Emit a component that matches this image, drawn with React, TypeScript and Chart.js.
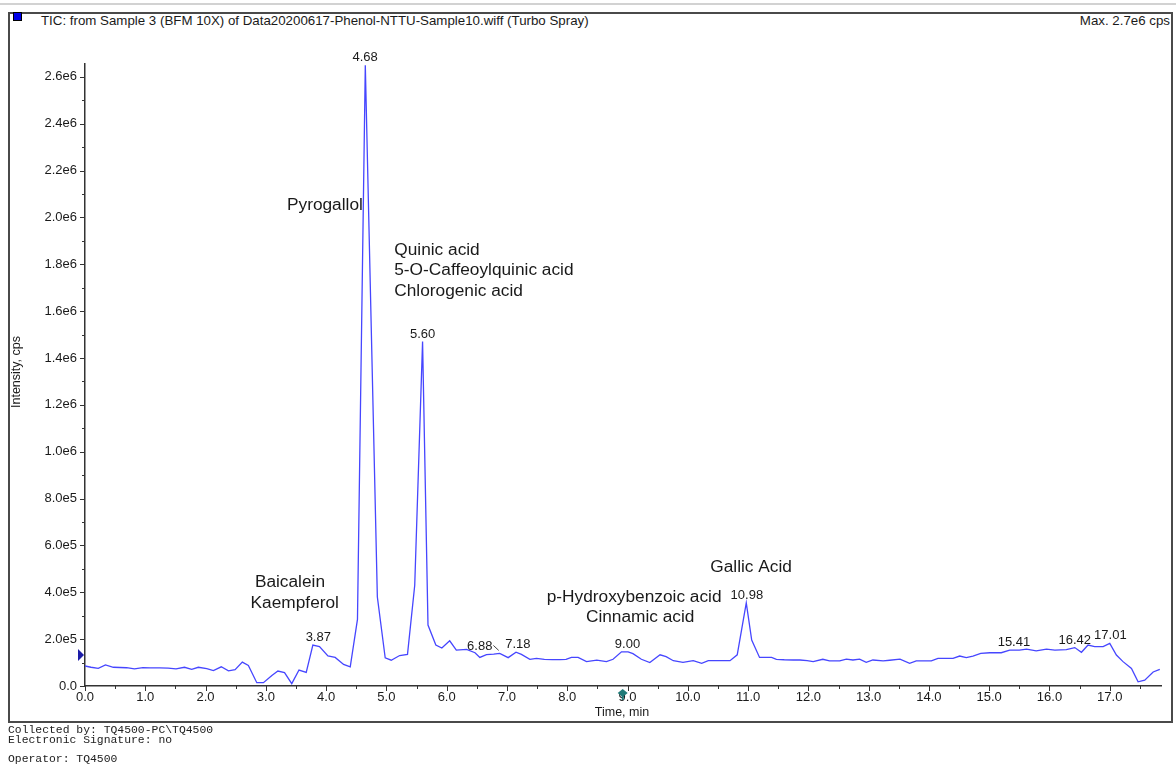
import React, { useEffect, useRef } from "react";
import { Chart, registerables } from "chart.js";

Chart.register(...registerables);

// ---- data (time in min, intensity in cps) ----
const times: number[] = [
  0.0, 0.1, 0.22, 0.34, 0.47, 0.58, 0.69, 0.82, 0.96, 1.08, 1.24, 1.38, 1.51, 1.65, 1.77, 1.88,
  2.02, 2.13, 2.26, 2.38, 2.49, 2.61, 2.71, 2.85, 2.96, 3.1, 3.2, 3.31, 3.43, 3.55, 3.67, 3.78,
  3.89, 4.03, 4.15, 4.29, 4.4, 4.52, 4.65, 4.85, 4.98, 5.08, 5.22, 5.35, 5.47, 5.6, 5.69, 5.82,
  5.92, 6.05, 6.16, 6.33, 6.47, 6.55, 6.66, 6.78, 6.88, 7.02, 7.15, 7.24, 7.38, 7.49, 7.62, 7.75,
  7.88, 7.98, 8.07, 8.18, 8.32, 8.49, 8.65, 8.76, 8.9, 9.01, 9.09, 9.23, 9.37, 9.54, 9.64, 9.76,
  9.92, 10.09, 10.23, 10.34, 10.5, 10.7, 10.82, 10.97, 11.06, 11.19, 11.39, 11.47, 11.6, 11.75,
  11.86, 11.98, 12.08, 12.24, 12.35, 12.52, 12.63, 12.74, 12.85, 12.96, 13.07, 13.24, 13.35,
  13.52, 13.68, 13.79, 14.04, 14.15, 14.4, 14.51, 14.62, 14.73, 14.86, 15.01, 15.2, 15.34, 15.5,
  15.62, 15.78, 15.95, 16.09, 16.28, 16.42, 16.53, 16.64, 16.75, 16.89, 17.0, 17.11, 17.22,
  17.36, 17.47, 17.58, 17.72, 17.83,
];

const intensity: number[] = [
  85500, 80000, 75500, 90000, 80000, 79000, 78000, 73000, 78000, 77000, 77000, 76000, 73000, 80000, 71000, 80000,
  74000, 66000, 82000, 65000, 70000, 102000, 88000, 14000, 14000, 45000, 64000, 57000, 10000, 68000, 58000, 175000,
  168000, 128000, 122000, 92000, 82000, 284000, 2650000, 380000, 120000, 110000, 130000, 135000, 430000, 1470000, 260000, 175000,
  162000, 193000, 153000, 156000, 142000, 122000, 134000, 136000, 139000, 121000, 144000, 135000, 114000, 118000, 114000, 113000,
  113000, 114000, 122000, 122000, 104000, 110000, 104000, 114000, 146000, 146000, 138000, 114000, 100000, 133000, 125000, 108000,
  101000, 108000, 97000, 108000, 108000, 108000, 133000, 355000, 196000, 122000, 122000, 114000, 112000, 111000,
  111000, 108000, 104000, 114000, 107000, 107000, 115000, 111000, 115000, 101000, 111000, 107000, 110000,
  115000, 97000, 107000, 107000, 118000, 118000, 128000, 121000, 128000, 139000, 142000, 142000, 153000, 153000,
  157000, 150000, 157000, 153000, 155000, 164000, 144000, 175000, 168000, 168000, 182000, 132000, 104000,
  75000, 18000, 25000, 60000, 71000,
];

// peak retention-time labels
const peakTimes: number[] = [3.87, 4.68, 5.6, 6.88, 7.18, 9.0, 10.98, 15.41, 16.42, 17.01];
const peakValues: number[] = [175000, 2650000, 1470000, 139000, 144000, 146000, 355000, 153000, 164000, 182000];

// compound name labels (text centre in data coordinates)
const compoundNames: string[] = [
  "Pyrogallol",
  "Quinic acid",
  "5-O-Caffeoylquinic acid",
  "Chlorogenic acid",
  "Baicalein",
  "Kaempferol",
  "p-Hydroxybenzoic acid",
  "Cinnamic acid",
  "Gallic Acid",
];
const compoundTimes: number[] = [3.98, 5.13, 5.13, 5.13, 3.4, 3.48, 9.11, 9.21, 11.05];
const compoundValues: number[] = [2053000, 1861000, 1775000, 1686000, 444000, 354000, 380000, 294000, 508000];
const compoundAlign: string[] = ["center", "left", "left", "left", "center", "center", "center", "center", "center"];

const xMajorTicks: number[] = [0, 1, 2, 3, 4, 5, 6, 7, 8, 9, 10, 11, 12, 13, 14, 15, 16, 17];
const yMajorTicks: number[] = [0, 200000, 400000, 600000, 800000, 1000000, 1200000, 1400000, 1600000, 1800000, 2000000, 2200000, 2400000, 2600000];

const X_MAX = 17.85;
const Y_MAX = 2655000;

const FONT = "'Liberation Sans', Arial, sans-serif";
const TEXT = "#1a1a1a";

function fmtY(v: number): string {
  if (v === 0) return "0.0";
  return v.toExponential(1).replace("+", "");
}

const overlayPlugin = {
  id: "overlay",
  afterDraw(chart: any) {
    const ctx = chart.ctx as CanvasRenderingContext2D;
    const xs = chart.scales.x;
    const ys = chart.scales.y;
    const area = chart.chartArea;
    ctx.save();

    // tick marks
    ctx.strokeStyle = "#333";
    ctx.lineWidth = 1;
    for (let i = 0; i <= 26; i++) {
      const v = i * 100000;
      const py = Math.round(ys.getPixelForValue(v)) + 0.5;
      const len = i % 2 === 0 ? 5 : 3;
      ctx.beginPath();
      ctx.moveTo(area.left - len, py);
      ctx.lineTo(area.left, py);
      ctx.stroke();
    }
    for (let i = 0; i <= 35; i++) {
      const t = i * 0.5;
      const px = Math.round(xs.getPixelForValue(t)) + 0.5;
      const len = i % 2 === 0 ? 5 : 3;
      ctx.beginPath();
      ctx.moveTo(px, area.bottom);
      ctx.lineTo(px, area.bottom + len);
      ctx.stroke();
    }

    // peak labels
    ctx.fillStyle = TEXT;
    ctx.font = `13px ${FONT}`;
    ctx.textAlign = "center";
    ctx.textBaseline = "bottom";
    peakTimes.forEach((t, i) => {
      let px = xs.getPixelForValue(t);
      const py = ys.getPixelForValue(peakValues[i]);
      const label = t.toFixed(2);
      if (t === 6.88) {
        const lx = px - 20;
        ctx.fillText(label, lx, py - 1);
        const w = ctx.measureText(label).width;
        ctx.strokeStyle = "#444";
        ctx.beginPath();
        ctx.moveTo(lx + w / 2 + 1, py - 8);
        ctx.lineTo(px - 1, py - 3);
        ctx.stroke();
      } else {
        if (t === 4.68) px -= 2;
        ctx.fillText(label, px, py - 1);
      }
    });

    // compound names
    ctx.font = `17.3px ${FONT}`;
    ctx.textBaseline = "middle";
    compoundNames.forEach((name, i) => {
      ctx.textAlign = compoundAlign[i] as CanvasTextAlign;
      ctx.fillText(name, xs.getPixelForValue(compoundTimes[i]), ys.getPixelForValue(compoundValues[i]));
    });

    // axis titles
    ctx.font = `12.5px ${FONT}`;
    ctx.textAlign = "center";
    ctx.textBaseline = "middle";
    ctx.fillText("Time, min", 622, 713);
    ctx.save();
    ctx.translate(17, 372);
    ctx.rotate(-Math.PI / 2);
    ctx.fillText("Intensity, cps", 0, 0);
    ctx.restore();

    // threshold marker on the y axis
    const my = ys.getPixelForValue(132000);
    ctx.fillStyle = "#1c1ca8";
    ctx.beginPath();
    ctx.moveTo(area.left - 7, my - 6);
    ctx.lineTo(area.left - 1, my);
    ctx.lineTo(area.left - 7, my + 6);
    ctx.closePath();
    ctx.fill();

    // cursor marker on the x axis
    const mx = xs.getPixelForValue(8.92);
    const by = area.bottom;
    ctx.fillStyle = "#1f7a78";
    ctx.beginPath();
    ctx.moveTo(mx, by + 3);
    ctx.lineTo(mx + 5, by + 7);
    ctx.lineTo(mx, by + 11);
    ctx.lineTo(mx - 5, by + 7);
    ctx.closePath();
    ctx.fill();
    ctx.fillRect(mx - 1, by + 9, 2, 5);

    ctx.restore();
  },
};

export default function App() {
  const canvasRef = useRef<HTMLCanvasElement | null>(null);

  useEffect(() => {
    const canvas = canvasRef.current;
    if (!canvas) return;
    const chart = new Chart(canvas, {
      type: "line",
      data: {
        datasets: [
          {
            data: times.map((t, i) => ({ x: t, y: intensity[i] })),
            borderColor: "rgb(70,70,255)",
            borderWidth: 1.3,
            pointRadius: 0,
            tension: 0,
            fill: false,
          },
        ],
      },
      options: {
        responsive: false,
        animation: false,
        devicePixelRatio: 1,
        layout: { padding: { left: 0, top: 64, right: 15, bottom: 0 } },
        plugins: { legend: { display: false }, tooltip: { enabled: false } },
        scales: {
          x: {
            type: "linear",
            min: 0,
            max: X_MAX,
            afterBuildTicks: (s: any) => {
              s.ticks = xMajorTicks.map((v) => ({ value: v }));
            },
            afterFit: (s: any) => {
              s.height = 79;
            },
            grid: { display: false, drawTicks: false },
            border: { display: true, color: "#333", width: 1.5 },
            ticks: {
              autoSkip: false,
              maxRotation: 0,
              padding: 4,
              color: TEXT,
              font: { family: FONT, size: 13 },
              callback: (v: any) => Number(v).toFixed(1),
            },
          },
          y: {
            type: "linear",
            min: 0,
            max: Y_MAX,
            afterBuildTicks: (s: any) => {
              s.ticks = yMajorTicks.map((v) => ({ value: v }));
            },
            afterFit: (s: any) => {
              s.width = 85;
            },
            grid: { display: false, drawTicks: false },
            border: { display: true, color: "#333", width: 1.5 },
            ticks: {
              autoSkip: false,
              padding: 8,
              color: TEXT,
              font: { family: FONT, size: 13 },
              callback: (v: any) => fmtY(Number(v)),
            },
          },
        },
      },
      plugins: [overlayPlugin],
    } as any);
    return () => chart.destroy();
  }, []);

  const mono = "'Courier New', 'Liberation Mono', monospace";

  return (
    <div style={{ position: "absolute", left: 0, top: 0, width: 1176, height: 765, background: "#fff", overflow: "hidden" }}>
      <div style={{ position: "absolute", left: 0, top: 3, width: 1176, height: 2, background: "#d2d2d2" }} />
      <div
        style={{
          position: "absolute",
          left: 8,
          top: 12,
          width: 1165,
          height: 711,
          border: "2px solid #4a4a4a",
          boxSizing: "border-box",
        }}
      />
      <div style={{ position: "absolute", left: 13, top: 12, width: 9, height: 9, background: "#0000e8", border: "1px solid #000", boxSizing: "border-box" }} />
      <div style={{ position: "absolute", left: 41, top: 13, font: `13.3px ${FONT}`, color: TEXT, lineHeight: "15px", whiteSpace: "nowrap" }}>
        TIC: from Sample 3 (BFM 10X) of Data20200617-Phenol-NTTU-Sample10.wiff (Turbo Spray)
      </div>
      <div style={{ position: "absolute", right: 6, top: 13, font: `13.3px ${FONT}`, color: TEXT, lineHeight: "15px", whiteSpace: "nowrap" }}>
        Max. 2.7e6 cps
      </div>
      <canvas ref={canvasRef} width={1176} height={765} style={{ position: "absolute", left: 0, top: 0, width: 1176, height: 765 }} />
      <div style={{ position: "absolute", left: 8, top: 725, font: `11.4px ${mono}`, color: "#222", lineHeight: "10px", whiteSpace: "pre" }}>
        {"Collected by: TQ4500-PC\\TQ4500\nElectronic Signature: no"}
      </div>
      <div style={{ position: "absolute", left: 8, top: 754, font: `11.4px ${mono}`, color: "#222", lineHeight: "10px", whiteSpace: "pre" }}>
        {"Operator: TQ4500"}
      </div>
    </div>
  );
}
